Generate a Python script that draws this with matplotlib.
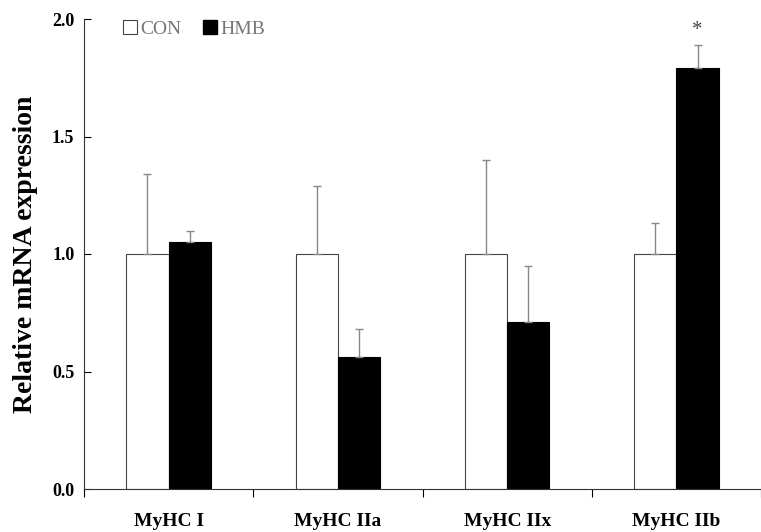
import numpy as np
import matplotlib.pyplot as plt
from matplotlib.patches import Patch

categories = ["MyHC I", "MyHC IIa", "MyHC IIx", "MyHC IIb"]
con_vals = [1.0, 1.0, 1.0, 1.0]
con_err = [0.34, 0.29, 0.40, 0.13]
hmb_vals = [1.05, 0.56, 0.71, 1.79]
hmb_err = [0.05, 0.12, 0.24, 0.10]
yticks = [0.0, 0.5, 1.0, 1.5, 2.0]

plt.rcParams['font.family'] = ['Liberation Serif', 'DejaVu Serif']

fig = plt.figure(figsize=(7.61, 5.32), dpi=100)
W, H = 761, 532
ax = fig.add_axes([84 / W, (H - 489) / H, (W - 84) / W, 470 / H])

x = np.arange(len(categories))
w = 0.25
ek = dict(ecolor='#888888', elinewidth=1.0, capsize=3, capthick=1.0)
ax.bar(x - w / 2, con_vals, w, color='white', edgecolor='#444444', linewidth=0.8,
       yerr=[np.zeros(4), con_err], error_kw=ek, zorder=2)
ax.bar(x + w / 2, hmb_vals, w, color='black', edgecolor='black', linewidth=0.8,
       yerr=[np.zeros(4), hmb_err], error_kw=ek, zorder=2)

ax.text(x[3] + w / 2, hmb_vals[3] + hmb_err[3] + 0.02, "*", ha='center', va='bottom',
        fontsize=15, color='#444444')

ax.set_xlim(-0.5, -0.5 + (W - 84) / 172)
ax.set_ylim(0, 2.0)
ax.set_yticks(yticks)
ax.set_yticklabels([f"{t:.1f}" for t in yticks], fontsize=13, fontweight='bold')
ax.tick_params(axis='y', direction='in', length=5, width=0.8, pad=7)

ax.set_xticks(x)
ax.set_xticklabels(categories, fontsize=14, fontweight='bold')
ax.tick_params(axis='x', length=0, pad=17)
ax.set_xticks(np.arange(len(categories) + 1) - 0.5, minor=True)
ax.tick_params(axis='x', which='minor', direction='out', length=6, width=0.8)

for s in ['top', 'right']:
    ax.spines[s].set_visible(False)
for s in ['left', 'bottom']:
    ax.spines[s].set_linewidth(0.8)
    ax.spines[s].set_color('#333333')

ax.set_ylabel("Relative mRNA expression", fontsize=20, fontweight='bold', labelpad=10)

handles = [Patch(facecolor='white', edgecolor='#444444', linewidth=0.8),
           Patch(facecolor='black', edgecolor='black')]
leg = ax.legend(handles, ["CON", "HMB"], ncol=2, frameon=False, loc='upper left',
                bbox_to_anchor=(0.032, 1.035), handlelength=0.7, handleheight=0.7,
                handletextpad=0.2, columnspacing=1.1, fontsize=14)
for t in leg.get_texts():
    t.set_color('#777777')

fig.savefig("out.png", dpi=100)
